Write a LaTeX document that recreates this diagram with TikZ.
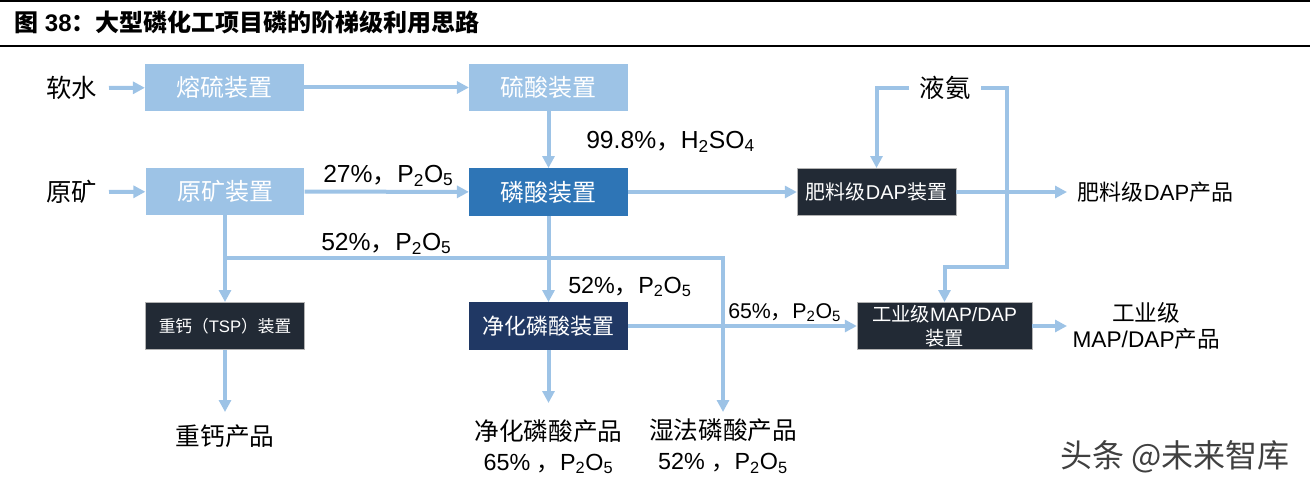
\documentclass[tikz,border=0pt]{standalone}
\usepackage{fontspec}
\setmainfont{Liberation Sans}
\newfontfamily\cjk{Noto Sans CJK SC}
\usetikzlibrary{arrows.meta}
\definecolor{paleblue}{HTML}{9DC3E6}
\definecolor{midblue}{HTML}{2E75B6}
\definecolor{navyblue}{HTML}{203864}
\definecolor{darkslate}{HTML}{222A35}

\begin{document}
\begin{tikzpicture}[x=0.75pt,y=-0.75pt,
  unit/.style={minimum width=119pt, minimum height=35.5pt, inner sep=0pt, text=white, font=\cjk\fontsize{18}{20}\selectfont},
  pale/.style={unit, fill=paleblue},
  dark/.style={unit, fill=darkslate, draw=gray!60, line width=0.5pt},
  flow/.style={draw=paleblue, line width=3pt, -{Triangle[length=9pt,width=9pt]}},
  lbl/.style={font=\fontsize{18.5}{20}\selectfont, anchor=base west, inner sep=0pt},
  src/.style={font=\cjk\fontsize{19}{21}\selectfont, inner sep=0pt},
  prod/.style={font=\fontsize{17.5}{22.5}\selectfont, align=center}]
\useasboundingbox (0,0) rectangle (1310,492);
\draw[line width=0.8pt] (0,1) -- (1310,1);
\draw[line width=1.5pt] (0,46) -- (1310,46);
\node[anchor=west, font=\bfseries\fontsize{18}{20}\selectfont, inner sep=0pt] (title) at (14,22) {{\cjk 图} 38{\cjk ：大型磷化工项目磷的阶梯级利用思路}};

\node[pale] (melt) at (224.5,87.5) {熔硫装置};
\node[pale] (sulf) at (548.5,87.5) {硫酸装置};
\node[pale] (oreunit) at (225,191.5) {原矿装置};
\node[unit, fill=midblue] (phos) at (548.5,192) {磷酸装置};
\node[dark, font=\fontsize{15}{17}\selectfont] (dap) at (876.5,192) {{\cjk 肥料级}DAP{\cjk 装置}};
\node[dark, font=\fontsize{12.5}{14}\selectfont] (tsp) at (225,326) {{\cjk 重钙（}TSP{\cjk ）装置}};
\node[unit, fill=navyblue, font=\cjk\fontsize{16.5}{18}\selectfont] (pure) at (548.5,326) {净化磷酸装置};
\node[dark, minimum width=131pt, align=center, font=\fontsize{14.5}{18}\selectfont] (map) at (944.5,326) {{\cjk 工业级}MAP/DAP\\{\cjk 装置}};

\node[src, inner xsep=9pt, anchor=east] (water) at (109,88) {软水};
\node[src, inner xsep=9pt, anchor=east] (ore) at (109,192) {原矿};
\node[src, inner xsep=8pt] (nh3) at (945,88) {液氨};

\node[prod, anchor=west, inner xsep=8pt, font=\fontsize{16.5}{20}\selectfont] (dapprod) at (1067,192) {{\cjk 肥料级}DAP{\cjk 产品}};
\node[prod, anchor=west, inner xsep=4pt, font=\fontsize{17}{20}\selectfont] (mapprod) at (1067,326) {{\cjk 工业级}\\MAP/DAP{\cjk 产品}};
\node[prod, anchor=north, inner ysep=9pt, font=\cjk\fontsize{18.5}{20}\selectfont] (tspprod) at (225,412) {重钙产品};
\node[prod, anchor=north, inner ysep=12pt] (pureprod) at (548.5,403) {{\cjk\fontsize{18.5}{20}\selectfont 净化磷酸产品}\\65\% {\cjk ，}P\textsubscript{2}O\textsubscript{5}};
\node[prod, anchor=north, inner ysep=5pt] (wetprod) at (723,412) {{\cjk\fontsize{18.5}{20}\selectfont 湿法磷酸产品}\\52\% {\cjk ，}P\textsubscript{2}O\textsubscript{5}};

\node[lbl] (l27) at (323,182) {27\%{\cjk ，}P\textsubscript{2}O\textsubscript{5}};
\node[lbl] (l52a) at (321,250) {52\%{\cjk ，}P\textsubscript{2}O\textsubscript{5}};
\node[lbl] (l998) at (586,148) {99.8\%{\cjk ，}H\textsubscript{2}SO\textsubscript{4}};
\node[lbl, font=\fontsize{17.5}{20}\selectfont] (l52b) at (568,293) {52\%{\cjk ，}P\textsubscript{2}O\textsubscript{5}};
\node[lbl, font=\fontsize{16}{18}\selectfont] (l65) at (728,318) {65\%{\cjk ，}P\textsubscript{2}O\textsubscript{5}};

\node[font=\cjk\fontsize{24}{26}\selectfont, text=black!75] (mark) at (1175,457) {头条 @未来智库};

\coordinate (split) at (225,258);
\coordinate (nh3bend) at (1007,267);
\draw[flow] (water) -- (melt);
\draw[flow] (melt) -- (sulf);
\draw[flow] (sulf) -- (phos);
\draw[flow] (ore) -- (oreunit);
\draw[flow] (oreunit) -- (phos);
\draw[flow] (phos) -- (dap);
\draw[flow] (dap) -- (dapprod);
\draw[flow] (oreunit) -- (tsp);
\draw[flow] (split) -| (wetprod.north);
\draw[flow] (phos) -- (pure);
\draw[flow] (tsp) -- (tspprod);
\draw[flow] (pure) -- (pureprod);
\draw[flow] (pure) -- (map);
\draw[flow] (map) -- (mapprod);
\draw[flow] (nh3) -| (dap);
\draw[flow] (nh3) -| (nh3bend) -| (map);
\end{tikzpicture}
\end{document}
